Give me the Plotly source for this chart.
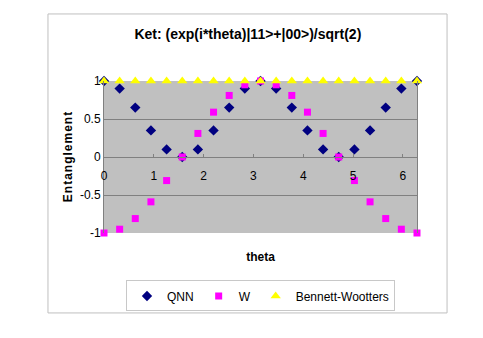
import plotly.graph_objects as go

# theta samples (k * pi / 10)
theta = [0, 0.314, 0.628, 0.942, 1.257, 1.571, 1.885, 2.199, 2.513, 2.827, 3.142,
         3.456, 3.770, 4.084, 4.398, 4.712, 5.027, 5.341, 5.655, 5.969, 6.283]

qnn = [1, 0.9, 0.65, 0.35, 0.1, 0, 0.1, 0.35, 0.65, 0.9, 1,
       0.9, 0.65, 0.35, 0.1, 0, 0.1, 0.35, 0.65, 0.9, 1]

w = [-1, -0.95, -0.81, -0.59, -0.31, 0, 0.31, 0.59, 0.81, 0.95, 1,
     0.95, 0.81, 0.59, 0.31, 0, -0.31, -0.59, -0.81, -0.95, -1]

bennett_wootters = [1] * 21

y_ticks = [-1, -0.5, 0, 0.5, 1]
y_ticktext = ['-1', '-0.5', '0', '0.5', '1']
x_ticks = [0, 1, 2, 3, 4, 5, 6]

FONT = 'Liberation Sans, Arial, sans-serif'

# the Excel axis title is drawn letter-spaced
y_title = '\u200a'.join('Entanglement')

fig = go.Figure()
fig.add_trace(go.Scatter(
    x=theta, y=qnn, mode='markers', name='QNN', cliponaxis=False,
    marker=dict(symbol='diamond', size=8, color='#000080')
))
fig.add_trace(go.Scatter(
    x=theta, y=w, mode='markers', name='W', cliponaxis=False,
    marker=dict(symbol='square', size=7, color='#FF00FF')
))
fig.add_trace(go.Scatter(
    x=theta, y=bennett_wootters, mode='markers', name='Bennett-Wootters', cliponaxis=False,
    marker=dict(symbol='triangle-up', size=9, color='#FFFF00')
))

# page body adds an 8px margin, so the figure is laid out 8px smaller
fig.update_layout(
    width=475, height=330,
    margin=dict(l=96, r=66, t=73, b=105),
    paper_bgcolor='white',
    plot_bgcolor='#C0C0C0',
    font=dict(family=FONT, size=12, color='black'),
    title=dict(
        text='<b>Ket: (exp(i*theta)|11>+|00>)/sqrt(2)</b>',
        x=0.505, xanchor='center', y=0.921, yanchor='middle',
        font=dict(size=14, color='black')
    ),
    xaxis=dict(
        range=[0, 6.2832],
        tickvals=x_ticks,
        showgrid=False,
        zeroline=False,
        showline=True, linecolor='#808080', linewidth=1,
        ticks='inside', ticklen=3, tickcolor='#808080',
        ticklabelstandoff=8,
        anchor='free', position=0.5,
        automargin=False,
        title=dict(text='<b>theta</b>', standoff=70, font=dict(size=12)),
        tickfont=dict(size=12)
    ),
    yaxis=dict(
        range=[-1, 1],
        tickvals=y_ticks, ticktext=y_ticktext,
        showgrid=True, gridcolor='#808080', gridwidth=1,
        zeroline=False,
        showline=True, linecolor='#808080', linewidth=1, mirror=True,
        automargin=False,
        title=dict(text='<b>' + y_title + '</b>', standoff=4, font=dict(size=12)),
        tickfont=dict(size=12)
    ),
    legend=dict(
        orientation='h', x=0.5, xanchor='center', y=-0.414, yanchor='middle',
        bgcolor='white', bordercolor='#C8C8C8', borderwidth=1,
        itemwidth=30, font=dict(size=12)
    ),
    shapes=[dict(
        type='rect', xref='paper', yref='paper',
        x0=-0.179, x1=1.096, y0=-0.526, y1=1.441,
        line=dict(color='#BFBFBF', width=1), layer='below'
    )]
)

fig.write_html("out.html")
